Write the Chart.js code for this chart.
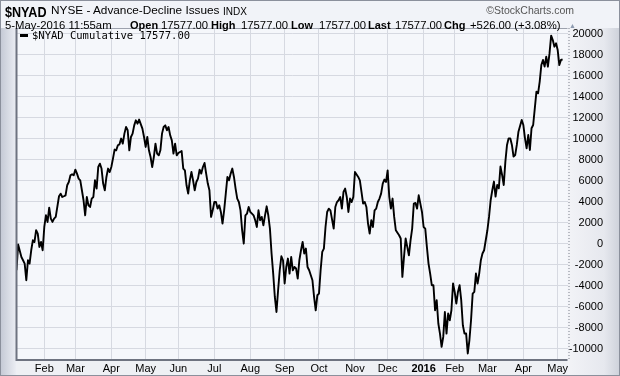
<!DOCTYPE html>
<html>
<head>
<meta charset="utf-8">
<script src="https://cdn.jsdelivr.net/npm/chart.js@4.4.1/dist/chart.umd.min.js"></script>
<style>
html, body { margin: 0; padding: 0; background: #eff1f6; }
#marco { position: relative; width: 620px; height: 376px; overflow: hidden; background: #f1f3f8;
         font-family: "Liberation Sans", Arial, sans-serif; color: #000; }
#grafico { position: absolute; left: 0; top: 0; }
.t { position: absolute; white-space: nowrap; line-height: 1; }
.sym { left: 5px; top: 4px; font-weight: bold; font-size: 15px; transform: scaleX(0.84); transform-origin: 0 0; }
.desc { left: 51px; top: 5px; font-size: 11.8px; }
.indx { left: 223px; top: 6.5px; font-size: 10px; }
.marca { right: 46px; top: 5px; font-size: 10.5px; color: #555; }
.v { top: 19.5px; font-size: 11.3px; }
.e { top: 19.5px; font-size: 11px; font-weight: bold; }
.tri { left: 569px; top: 22px; font-size: 7px; color: #8d9bb0; }
#borde { position: absolute; left: 0; top: 0; width: 618px; height: 374px; border: 1px solid #8b909c; pointer-events: none; }
</style>
</head>
<body>
<div id="marco">
  <canvas id="grafico" width="620" height="376"></canvas>
  <span class="t sym">$NYAD</span>
  <span class="t desc">NYSE - Advance-Decline Issues</span>
  <span class="t indx">INDX</span>
  <span class="t marca">&copy;StockCharts.com</span>
  <span class="t v" style="left:5px">5-May-2016 11:55am</span>
  <span class="t e" style="left:130px">Open</span><span class="t v" style="left:161px">17577.00</span>
  <span class="t e" style="left:211px">High</span><span class="t v" style="left:241px">17577.00</span>
  <span class="t e" style="left:291px">Low</span><span class="t v" style="left:319px">17577.00</span>
  <span class="t e" style="left:368px">Last</span><span class="t v" style="left:395px">17577.00</span>
  <span class="t e" style="left:444px">Chg</span><span class="t v" style="left:470px">+526.00 (+3.08%)</span>
  <span class="t tri">&#9650;</span>
  <div id="borde"></div>
</div>
<script>
// Sesiones bursátiles contadas desde el 2-feb-2015 (sesión 0)
const sesiones = [
  -17, -16, -14, -13, -12, -11, -10, -9, -8, -7, -6, -5, -4, -3, -2, -1,
  0, 1, 2, 3, 4, 5, 6, 7, 9, 10, 11, 12, 13, 14, 15, 16, 17, 18, 19, 20,
  21, 22, 23, 24, 25, 26, 27, 28, 29, 30, 31, 32, 33, 34, 35, 36, 37, 38, 39, 40,
  41, 42, 43, 44, 45, 46, 47, 48, 49, 50, 51, 52, 53, 54, 55, 56, 57, 58, 60,
  61, 62, 63, 64, 65, 66, 67, 68, 69, 70, 71, 72, 73, 74, 75, 76, 77, 78, 79, 80,
  81, 82, 83, 84, 85, 86, 87, 88, 89, 90, 91, 92, 93, 94, 95, 96, 97, 98, 99, 100,
  101, 102, 103, 104, 105, 106, 107, 108, 109, 110, 111, 112, 113, 114, 115, 116, 117, 118, 119, 120,
  121, 122, 123, 124, 125, 126, 127, 128, 129, 130, 131, 132, 133, 134, 135, 136, 137, 138, 139, 140,
  141, 142, 143, 144, 145, 146, 147, 148, 149, 150, 151, 152, 153, 154, 155, 156, 157, 158, 159, 160,
  161, 162, 163, 164, 165, 166, 167, 168, 169, 170, 171, 172, 173, 174, 175, 177, 178, 179, 180,
  181, 182, 183, 184, 185, 186, 187, 188, 189, 190, 192, 193, 194, 195, 196, 197, 198, 199, 200,
  201, 202, 203, 204, 205, 206, 207, 208, 209, 210, 211, 212, 213, 214, 215, 217, 218, 219, 220,
  221, 222, 223, 224, 225, 226, 227, 228, 229, 230, 231, 232, 233, 234, 235, 236, 237, 238, 239, 240,
  241, 242, 243, 244, 245, 246, 247, 248, 249, 250, 251, 252, 253, 254, 255, 256, 257, 258, 259, 260,
  261, 262, 263, 264, 265, 266, 267, 268, 269, 271, 272, 273, 274, 275, 276, 277, 278, 279, 280,
  281, 282, 283, 284, 285, 286, 287, 288, 289, 290, 292, 293, 294, 295, 296, 297, 298, 299, 300,
  301, 302, 303, 304, 305, 306, 307, 308, 309, 310, 311, 312, 313, 314, 315, 316, 317
];
const valores = [
  -2525, -76, -1260, -1570, -1890, -3480, -1570, -1890, -620, 330, 170, 1290, 970, -300, 170, -620,
  1600, 2716, 2080, 3450, 2400, 2080, 2400, 2560, 4530, 4780, 4460, 4530, 4620, 5575, 5890, 6530, 6620, 6530, 7070, 6690,
  6210, 6050, 5100, 4150, 2716, 4460, 3670, 3510, 4310, 4460, 6050, 5260, 7320, 7640, 7170, 5740, 5100, 6370, 7170, 6840,
  7320, 8120, 8980, 8910, 9390, 9480, 10030, 9550, 10500, 11130, 10820, 8910, 10180, 10500, 11290, 11770, 11450, 11840, 10980,
  10180, 9230, 10180, 8910, 8270, 7320, 8270, 9550, 8600, 8430, 8910, 10500, 11130, 11290, 10820, 11130, 10340, 9860, 8600, 9550,
  8430, 8650, 8750, 8840, 7170, 7000, 5575, 4780, 6050, 6840, 6050, 5100, 5890, 6210, 7070, 6690, 7320, 7700, 6690, 5740,
  5100, 2560, 3190, 3980, 3980, 3350, 3670, 3030, 1925, 3190, 4780, 6370, 6050, 6690, 7170, 6370, 5260, 4300, 3980, 3190,
  1290, 20, 2716, 2880, 3510, 3030, 2880, 2716, 2240, 1600, 3190, 2240, 2560, 1760, 2716, 3570, 2716, 1450, -930, -2840,
  -5070, -6500, -4430, -2525, -1190, -1570, -3790, -2210, -1410, -2840, -1260, -2525, -2210, -2360, -3320, -1570, -620, 170, -930, -460,
  -2210, -2525, -3000, -3480, -5070, -6340, -4910, -4750, -2525, -780, -460, 1600, 3030, 3350, 3190, 1450, 3510, 3980, 4150,
  4460, 3350, 4940, 5260, 4460, 3030, 4310, 3980, 4460, 6840, 6370, 6050, 4940, 3830, 3980, 3510, 1925, 970, 2240,
  1600, 3190, 3350, 3980, 4310, 4780, 5740, 6120, 5890, 7000, 4460, 3350, 4310, 2560, 1290, 810, 500, -3160, -1260,
  500, -300, -1100, 330, 1450, 3830, 3890, 3350, 4620, 3830, 3030, 1600, 1450, -300, -1890, -2840, -3950, -3950, -6340, -5380,
  -7600, -8560, -9830, -8880, -6500, -8560, -6650, -7290, -6340, -3790, -4590, -5700, -4590, -3950, -5380, -7770, -8560, -8560, -10460, -9200,
  -7290, -4750, -4590, -2840, -3790, -2840, -1570, -930, -620, 1290, 2560, 4150, 5100, 5930, 4500, 5600, 5290, 7360, 6560,
  5600, 7830, 9420, 10050, 10050, 9420, 8310, 8460, 9420, 10690, 11800, 11320, 10050, 9100, 10370, 8940, 11010, 11320, 12910,
  14500, 14340, 15460, 17040, 17520, 16890, 17840, 16880, 18150, 19840, 19420, 18790, 19110, 18470, 17040, 17520, 17577
];

// Marcas del eje X: primera sesión de cada mes
const marcasMes = [0, 19, 41, 62, 82, 104, 126, 147, 168, 190, 210, 232, 251, 271, 293, 314];
const etiquetasMes = ['Feb', 'Mar', 'Apr', 'May', 'Jun', 'Jul', 'Aug', 'Sep', 'Oct', 'Nov', 'Dec', '2016', 'Feb', 'Mar', 'Apr', 'May'];
const marcasY = [-10000, -8000, -6000, -4000, -2000, 0, 2000, 4000, 6000, 8000, 10000, 12000, 14000, 16000, 18000, 20000];

const ultimo = valores[valores.length - 1];

// Fondos, bordes y leyenda dentro del área de trazado
const fondos = {
    id: 'fondos',
    beforeDraw(chart) {
        const { ctx, chartArea: a, width, height } = chart;
        ctx.save();
        let g = ctx.createLinearGradient(0, 0, a.left, 0);
        g.addColorStop(0, '#c3c8d4');
        g.addColorStop(1, '#eceef4');
        ctx.fillStyle = g;
        ctx.fillRect(0, a.top, a.left, height - a.top);

        g = ctx.createLinearGradient(a.right, 0, width, 0);
        g.addColorStop(0, '#f2f3f7');
        g.addColorStop(0.7, '#e6e8ee');
        g.addColorStop(1, '#cdd1da');
        ctx.fillStyle = g;
        ctx.fillRect(a.right, a.top, width - a.right, height - a.top);

        ctx.fillStyle = '#eef0f4';
        ctx.fillRect(a.left, a.bottom, a.right - a.left, height - a.bottom);

        ctx.fillStyle = '#f5f7fb';
        ctx.fillRect(a.left, a.top, a.right - a.left, a.bottom - a.top);
        ctx.restore();
    },
    afterDraw(chart) {
        const { ctx, chartArea: a } = chart;
        ctx.save();
        ctx.strokeStyle = '#9ca1ad';
        ctx.lineWidth = 1;
        ctx.beginPath();
        ctx.moveTo(a.left, a.top + 0.5);
        ctx.lineTo(a.right, a.top + 0.5);
        ctx.stroke();

        ctx.strokeStyle = '#6e7380';
        ctx.lineWidth = 2;
        ctx.beginPath();
        ctx.moveTo(a.left, a.top);
        ctx.lineTo(a.left, a.bottom);
        ctx.lineTo(a.right, a.bottom);
        ctx.stroke();

        ctx.strokeStyle = '#7d828e';
        ctx.lineWidth = 1;
        ctx.setLineDash([1, 2]);
        ctx.beginPath();
        ctx.moveTo(a.right + 1.5, a.top);
        ctx.lineTo(a.right + 1.5, a.bottom);
        ctx.stroke();
        ctx.setLineDash([]);

        // leyenda
        const etiqueta = chart.data.datasets[0].label;
        ctx.strokeStyle = '#000';
        ctx.lineWidth = 3;
        ctx.beginPath();
        ctx.moveTo(a.left + 3.5, a.top + 7.5);
        ctx.lineTo(a.left + 11.5, a.top + 7.5);
        ctx.stroke();
        ctx.fillStyle = '#000';
        ctx.font = '10.5px "DejaVu Sans Mono"';
        ctx.textBaseline = 'middle';
        ctx.fillText(etiqueta, a.left + 15.5, a.top + 8);
        ctx.restore();
    }
};

new Chart(document.getElementById('grafico'), {
    type: 'line',
    data: {
        datasets: [{
            label: `$NYAD Cumulative ${ultimo.toFixed(2)}`,
            data: sesiones.map((s, i) => ({ x: s, y: valores[i] })),
            borderColor: '#000',
            borderWidth: 1.9,
            borderJoinStyle: 'round',
            pointRadius: 0,
            tension: 0,
            fill: false
        }]
    },
    options: {
        responsive: false,
        animation: false,
        layout: { padding: { left: 16.5, top: 28, right: 17, bottom: 0 } },
        plugins: {
            legend: { display: false },
            tooltip: { enabled: false }
        },
        scales: {
            x: {
                type: 'linear',
                min: -17,
                max: 320,
                afterFit(scale) { scale.height = 16; },
                afterBuildTicks(scale) { scale.ticks = marcasMes.map(v => ({ value: v })); },
                ticks: {
                    autoSkip: false,
                    maxRotation: 0,
                    padding: 2,
                    color: '#000',
                    callback: (v, i) => etiquetasMes[i],
                    font: (c) => ({
                        family: 'Liberation Sans',
                        size: 11,
                        weight: etiquetasMes[c.index] === '2016' ? 'bold' : 'normal'
                    })
                },
                grid: { color: '#d6d9e1', drawTicks: false },
                border: { display: false }
            },
            y: {
                position: 'right',
                min: -11080,
                max: 20570,
                afterFit(scale) { scale.width = 35.5; },
                afterBuildTicks(scale) { scale.ticks = marcasY.map(v => ({ value: v })); },
                ticks: {
                    crossAlign: 'far',
                    padding: 1,
                    color: '#000',
                    callback: (v) => String(v),
                    font: { family: 'Liberation Sans', size: 11 }
                },
                grid: { color: '#d6d9e1', drawTicks: false },
                border: { display: false }
            }
        }
    },
    plugins: [fondos]
});
</script>
</body>
</html>
